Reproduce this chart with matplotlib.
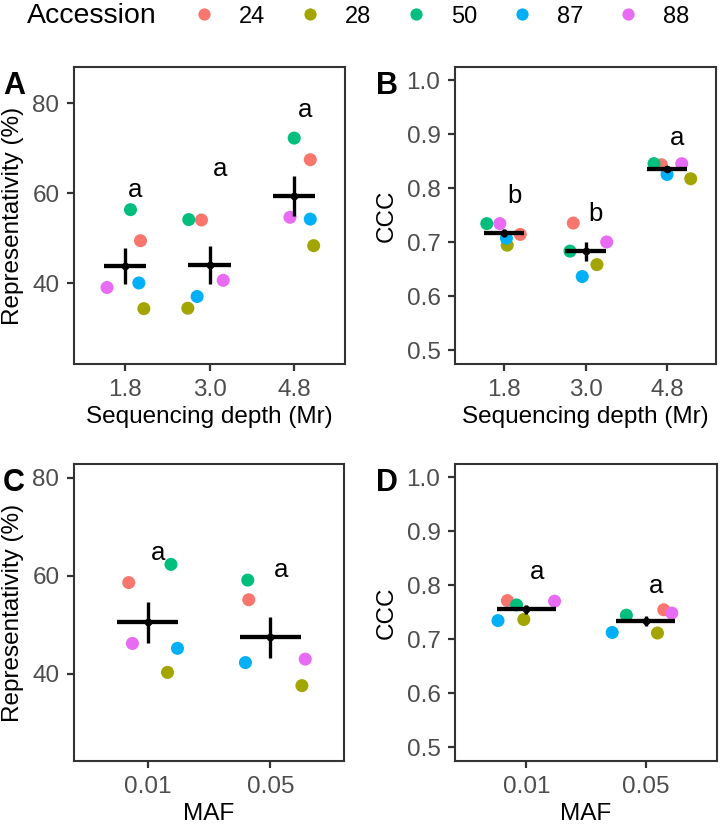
#!/usr/bin/env python3
# representativity / CCC by depth and MAF, four panels

import numpy as np
import matplotlib
matplotlib.use('Agg')
import matplotlib.pyplot as plt
from matplotlib.ticker import FormatStrFormatter

plt.rcParams['font.family'] = ['Liberation Sans', 'DejaVu Sans']

accessions = ['24', '28', '50', '87', '88']
acc_colors = ['#F8766D', '#A3A500', '#00BF7D', '#00B0F6', '#E76BF3']

depth_labels = ['1.8', '3.0', '4.8']
maf_labels = ['0.01', '0.05']

# rows = group, cols = accession (24, 28, 50, 87, 88)
rep_depth = [[49.4, 34.3, 56.3, 40.0, 39.0],
             [54.0, 34.4, 54.1, 37.0, 40.6],
             [67.4, 48.3, 72.2, 54.2, 54.6]]
rep_depth_jit = [[0.185, 0.225, 0.067, 0.166, -0.21],
                 [-0.095, -0.256, -0.245, -0.146, 0.162],
                 [0.19, 0.23, 0.0, 0.19, -0.05]]
rep_depth_letters = ['a', 'a', 'a']
rep_depth_letter_y = [59.1, 63.7, 76.9]

ccc_depth = [[0.715, 0.695, 0.735, 0.708, 0.735],
             [0.736, 0.659, 0.684, 0.637, 0.701],
             [0.844, 0.818, 0.846, 0.826, 0.846]]
ccc_depth_jit = [[0.2, 0.04, -0.21, 0.03, -0.05],
                 [-0.15, 0.14, -0.19, -0.04, 0.26],
                 [-0.07, 0.29, -0.16, 0.0, 0.18]]
ccc_depth_letters = ['b', 'b', 'a']
ccc_depth_letter_y = [0.774, 0.739, 0.881]

rep_maf = [[58.6, 40.3, 62.3, 45.2, 46.2],
           [55.1, 37.6, 59.1, 42.3, 43.0]]
rep_maf_jit = [[-0.154, 0.162, 0.19, 0.243, -0.124],
               [-0.176, 0.257, -0.184, -0.203, 0.284]]
rep_maf_letters = ['a', 'a']
rep_maf_letter_y = [63.2, 59.8]

ccc_maf = [[0.772, 0.737, 0.764, 0.735, 0.771],
           [0.755, 0.712, 0.745, 0.713, 0.749]]
ccc_maf_jit = [[-0.16, -0.022, -0.083, -0.239, 0.236],
               [0.153, 0.10, -0.161, -0.28, 0.22]]
ccc_maf_letters = ['a', 'a']
ccc_maf_letter_y = [0.812, 0.787]

W, H = 720, 826
TICK_COL = '#4D4D4D'
LINE_COL = '#333333'


def panel(fig, box, values, jit, labels, letters, letter_y, ylim, yticks,
          ylabel, xlabel, tag, fmt=None):
    l, t, r, b = box
    ax = fig.add_axes([l / W, 1 - b / H, (r - l) / W, (b - t) / H])
    vals = np.array(values)
    jit = np.array(jit)
    xs = np.arange(1, len(labels) + 1)

    # points, one accession at a time so later ones sit on top
    for j, col in enumerate(acc_colors):
        ax.scatter(xs + jit[:, j], vals[:, j], s=88, color=col,
                   edgecolors='none', zorder=3)

    # mean +/- se
    means = vals.mean(axis=1)
    se = vals.std(axis=1, ddof=1) / np.sqrt(vals.shape[1])
    for x, m, e in zip(xs, means, se):
        ax.plot([x - 0.25, x + 0.25], [m, m], color='black', lw=3.1,
                solid_capstyle='butt', zorder=4)
        ax.plot([x, x], [m - e, m + e], color='black', lw=2.4,
                solid_capstyle='butt', zorder=4)
    ax.plot(xs, means, 'o', color='black', ms=4.5, zorder=5)

    for x, s, y in zip(xs, letters, letter_y):
        ax.annotate(s, (x, y), xytext=(7.5, 0), textcoords='offset points',
                    ha='center', va='baseline', fontsize=18.5, color='black')

    ax.set_xlim(0.4, len(labels) + 0.6)
    ax.set_ylim(*ylim)
    ax.set_xticks(xs)
    ax.set_xticklabels(labels)
    ax.set_yticks(yticks)
    if fmt:
        ax.yaxis.set_major_formatter(FormatStrFormatter(fmt))

    for sp in ax.spines.values():
        sp.set_color(LINE_COL)
        sp.set_linewidth(1.5)
    ax.tick_params(length=5, width=1.6, color=LINE_COL, labelcolor=TICK_COL,
                   labelsize=17.5)
    ax.tick_params(axis='x', pad=5.5)
    ax.tick_params(axis='y', pad=5.5)

    ax.set_xlabel(xlabel, fontsize=17.5)
    ax.set_ylabel(ylabel, fontsize=17.5)
    ax.xaxis.set_label_coords(0.5, -42 / (b - t))
    ylab_right = 24 if tag in 'AC' else 398
    ax.yaxis.set_label_coords((ylab_right - l) / (r - l), 0.5)

    fig.text(3 / W if tag in 'AC' else 376 / W, 1 - (t + 27) / H, tag,
             fontsize=22, fontweight='bold', ha='left', va='baseline')
    return ax


fig = plt.figure(figsize=(W / 100, H / 100), dpi=100)

panel(fig, (74, 67, 345, 364), rep_depth, rep_depth_jit, depth_labels,
      rep_depth_letters, rep_depth_letter_y, (22, 88), [40, 60, 80],
      'Representativity (%)', 'Sequencing depth (Mr)', 'A')
panel(fig, (455, 67, 716, 364), ccc_depth, ccc_depth_jit, depth_labels,
      ccc_depth_letters, ccc_depth_letter_y, (0.475, 1.025),
      [0.5, 0.6, 0.7, 0.8, 0.9, 1.0], 'CCC', 'Sequencing depth (Mr)', 'B',
      fmt='%.1f')
panel(fig, (74, 464, 344, 761), rep_maf, rep_maf_jit, maf_labels,
      rep_maf_letters, rep_maf_letter_y, (22.25, 82.75), [40, 60, 80],
      'Representativity (%)', 'MAF', 'C')
panel(fig, (455, 464, 717, 761), ccc_maf, ccc_maf_jit, maf_labels,
      ccc_maf_letters, ccc_maf_letter_y, (0.475, 1.025),
      [0.5, 0.6, 0.7, 0.8, 0.9, 1.0], 'CCC', 'MAF', 'D', fmt='%.1f')

# legend across the top
fig.text(27 / W, 1 - 23 / H, 'Accession', fontsize=20.5, ha='left',
         va='baseline')
leg = fig.add_axes([0, 1 - 28 / H, 1, 28 / H])
leg.set_xlim(0, W)
leg.set_ylim(28, 0)
leg.axis('off')
for i, (name, col) in enumerate(zip(accessions, acc_colors)):
    kx = 204 + 106 * i
    leg.plot(kx, 13.5, 'o', color=col, ms=8.8, mec='none')
    leg.text(kx + 35, 22.7, name, fontsize=17, ha='left', va='baseline')

fig.savefig('out.png', dpi=100)
print('saved out.png')
